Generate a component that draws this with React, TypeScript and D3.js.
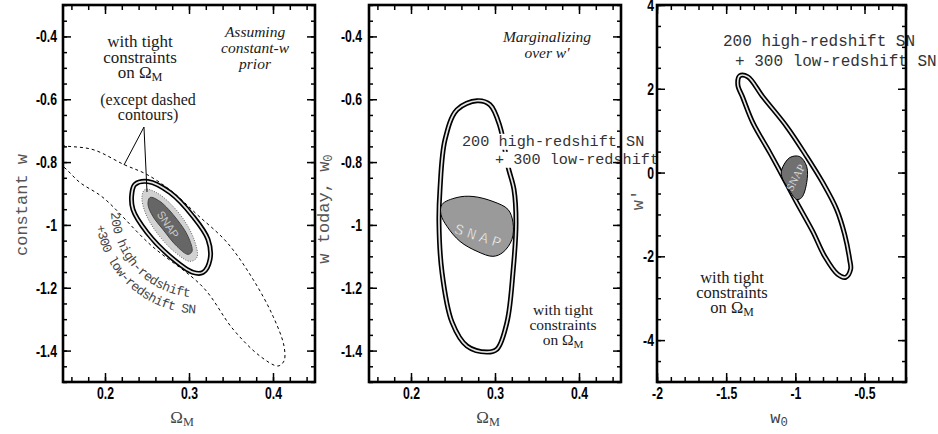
import { useEffect, useRef } from 'react';
import * as d3 from 'd3';

type Pt = [number, number];

// tick labels
const omegaTicks = [0.2, 0.3, 0.4];
const wTicks = [-1.4, -1.2, -1, -0.8, -0.6, -0.4];
const w0Ticks = [-2, -1.5, -1, -0.5];
const wPrimeTicks = [-4, -2, 0, 2, 4];

// panel 1: (Omega_M, constant w)
const p1Dashed: Pt[] = [
    [0.1048, -0.7286], [0.1488, -0.7476], [0.1857, -0.7603], [0.2226, -0.8079], [0.25, -0.8397],
    [0.2798, -0.8937], [0.3095, -0.9667], [0.3452, -1.0556], [0.3762, -1.173], [0.40, -1.2905],
    [0.4131, -1.3857], [0.4131, -1.4333], [0.406, -1.449], [0.3845, -1.4175], [0.3524, -1.3317],
    [0.3167, -1.1984], [0.2536, -1.0619], [0.1976, -0.9127], [0.1702, -0.8651], [0.1488, -0.8111],
    [0.1167, -0.7603],
];
const p1Solid: Pt[] = [
    [0.2512, -0.862], [0.2774, -0.897], [0.3048, -0.973], [0.3226, -1.046], [0.325, -1.11],
    [0.3167, -1.151], [0.3048, -1.151], [0.2774, -1.1], [0.25, -1.024], [0.2333, -0.951],
    [0.2321, -0.897], [0.2357, -0.871],
];
const p1SnapOuter: Pt[] = [
    [0.2476, -0.8873], [0.2631, -0.9], [0.2893, -0.9667], [0.306, -1.046], [0.3095, -1.103],
    [0.3012, -1.116], [0.2833, -1.087], [0.2631, -1.03], [0.2488, -0.9667], [0.244, -0.9127],
];
const p1Snap: Pt[] = [
    [0.2536, -0.9127], [0.2655, -0.9254], [0.2857, -0.9825], [0.2988, -1.0365], [0.3036, -1.0841],
    [0.2988, -1.0937], [0.2857, -1.0683], [0.269, -1.0143], [0.2571, -0.973], [0.2512, -0.935],
];

// panel 2: (Omega_M, w0) marginalized over w'
const p2Solid: Pt[] = [
    [0.2786, -0.6048], [0.2548, -0.6333], [0.2405, -0.7286], [0.2345, -0.8873], [0.2333, -0.9921],
    [0.2369, -1.1508], [0.2488, -1.3095], [0.2667, -1.3857], [0.2905, -1.4048], [0.3024, -1.3952],
    [0.3143, -1.3095], [0.3214, -1.1508], [0.325, -0.9921], [0.3226, -0.8873], [0.3155, -0.8143],
    [0.306, -0.6873], [0.294, -0.6175],
];
const p2Snap: Pt[] = [
    [0.2369, -0.9349], [0.2548, -0.9127], [0.2738, -0.9095], [0.2976, -0.9254], [0.3155, -0.9508],
    [0.3214, -0.9921], [0.3202, -1.046], [0.3095, -1.0873], [0.2976, -1.1], [0.2786, -1.0841],
    [0.2583, -1.0524], [0.2429, -1.0048], [0.2357, -0.9667],
];

// panel 3: (w0, w')
const p3Solid: Pt[] = [
    [-1.4012, 2.3095], [-1.3434, 2.2857], [-1.2352, 1.8095], [-1.062, 1.0952], [-0.9177, 0.381],
    [-0.8023, -0.2381], [-0.7013, -0.881], [-0.6436, -1.4762], [-0.6075, -2.0714], [-0.6003, -2.3095],
    [-0.6364, -2.5], [-0.6941, -2.4286], [-0.7879, -2.0], [-0.8745, -1.4048], [-0.9899, -0.7143],
    [-1.0981, -0.0476], [-1.1847, 0.4762], [-1.3074, 1.1905], [-1.3795, 1.7857], [-1.4156, 2.0952],
];
const p3Snap: Pt[] = [
    [-1.0981, 0.0714], [-1.0404, 0.3571], [-0.9683, 0.381], [-0.9177, 0.1429], [-0.9177, -0.2381],
    [-0.9538, -0.5952], [-0.9899, -0.6429], [-1.0548, -0.3571], [-1.0981, -0.0952],
];

const tightLines = ['with tight', 'constraints', 'on Ω_M'];
const snLines = ['200 high-redshift SN', '+ 300 low-redshift SN'];
const arcLines = ['200 high-redshift', '+300 low-redshift SN'];

const serif = '"Liberation Serif", "Times New Roman", serif';
const mono = '"Liberation Mono", "Courier New", monospace';
const sans = '"Liberation Sans", Arial, sans-serif';

interface Box { left: number; right: number; top: number; bottom: number }

const App = () => {
    const svgRef = useRef<SVGSVGElement>(null);

    useEffect(() => {
        if (!svgRef.current) return;
        const svg = d3.select(svgRef.current);
        svg.selectAll('*').remove();
        const defs = svg.append('defs');

        const closed = d3.line<Pt>().curve(d3.curveCatmullRomClosed.alpha(0.5));

        // text with "_X" subscripts
        const rich = (t: any, str: string, fs: number) => {
            const parts = str.split(/_(\w)/);
            let sub = false;
            parts.forEach((p, i) => {
                if (!p) return;
                if (i % 2 === 1) {
                    t.append('tspan').attr('font-size', fs * 0.72).attr('dy', fs * 0.2).text(p);
                    sub = true;
                } else {
                    t.append('tspan').attr('dy', sub ? -fs * 0.2 : 0).text(p);
                    sub = false;
                }
            });
        };

        const block = (g: any, x: number, y: number, lines: string[], fs: number, lh: number, italic = false) => {
            lines.forEach((l, i) => {
                const t = g.append('text')
                    .attr('x', x).attr('y', y + i * lh)
                    .attr('text-anchor', 'middle')
                    .attr('font-family', serif)
                    .attr('font-size', fs)
                    .attr('font-style', italic ? 'italic' : 'normal')
                    .attr('fill', '#1a1a1a');
                rich(t, l, fs);
            });
        };

        const makePanel = (id: number, box: Box, xd: [number, number], yd: [number, number]) => {
            const x = d3.scaleLinear().domain(xd).range([box.left, box.right]);
            const y = d3.scaleLinear().domain(yd).range([box.bottom, box.top]);
            defs.append('clipPath').attr('id', `clip${id}`).append('rect')
                .attr('x', box.left).attr('y', box.top)
                .attr('width', box.right - box.left).attr('height', box.bottom - box.top);
            const g = svg.append('g');
            g.append('rect')
                .attr('x', box.left).attr('y', box.top)
                .attr('width', box.right - box.left).attr('height', box.bottom - box.top)
                .attr('fill', 'white');
            const inner = g.append('g').attr('clip-path', `url(#clip${id})`);
            return { x, y, g, inner };
        };

        // boxed axes with inward ticks on all four sides
        const frame = (g: any, x: any, y: any, box: Box, xMajor: number[], xMinor: number[], yMajor: number[], yMinor: number[], yPad: number) => {
            const fmt = (d: any) => String(d);
            const style = (s: any, labels: boolean) => {
                s.select('.domain').remove();
                s.selectAll('line').attr('stroke', '#000').attr('stroke-width', 1.5);
                if (labels) {
                    s.selectAll('text')
                        .attr('font-family', sans)
                        .attr('font-size', 17)
                        .attr('transform', 'scale(0.72,1)')
                        .attr('fill', '#000')
                        .style('font-weight', '700');
                }
            };
            [true, false].forEach(bottom => {
                const mk = () => (bottom ? d3.axisBottom(x) : d3.axisTop(x));
                const pos = bottom ? box.bottom : box.top;
                g.append('g').attr('transform', `translate(0,${pos})`)
                    .call(mk().tickValues(xMinor).tickSizeInner(-5).tickSizeOuter(0).tickFormat(() => ''))
                    .call((s: any) => style(s, false));
                g.append('g').attr('transform', `translate(0,${pos})`)
                    .call(mk().tickValues(xMajor).tickSizeInner(-9).tickSizeOuter(0).tickPadding(5)
                        .tickFormat(bottom ? fmt : () => ''))
                    .call((s: any) => style(s, bottom));
            });
            [true, false].forEach(left => {
                const mk = () => (left ? d3.axisLeft(y) : d3.axisRight(y));
                const pos = left ? box.left : box.right;
                g.append('g').attr('transform', `translate(${pos},0)`)
                    .call(mk().tickValues(yMinor).tickSizeInner(-4).tickSizeOuter(0).tickFormat(() => ''))
                    .call((s: any) => style(s, false));
                g.append('g').attr('transform', `translate(${pos},0)`)
                    .call(mk().tickValues(yMajor).tickSizeInner(-8).tickSizeOuter(0).tickPadding(yPad / 0.72)
                        .tickFormat(left ? fmt : () => ''))
                    .call((s: any) => style(s, left));
            });
            g.append('rect')
                .attr('x', box.left).attr('y', box.top)
                .attr('width', box.right - box.left).attr('height', box.bottom - box.top)
                .attr('fill', 'none').attr('stroke', '#000').attr('stroke-width', 2.6);
        };

        const doubleLine = (g: any, pts: Pt[], x: any, y: any) => {
            const d = closed(pts.map(p => [x(p[0]), y(p[1])] as Pt));
            g.append('path').attr('d', d).attr('fill', 'none').attr('stroke', '#000').attr('stroke-width', 5);
            g.append('path').attr('d', d).attr('fill', 'none').attr('stroke', '#e4e4e4').attr('stroke-width', 1.7);
        };

        const filled = (g: any, pts: Pt[], x: any, y: any, fill: string, stroke: string, dash?: string) => {
            g.append('path')
                .attr('d', closed(pts.map(p => [x(p[0]), y(p[1])] as Pt)))
                .attr('fill', fill).attr('stroke', stroke).attr('stroke-width', 1)
                .attr('stroke-dasharray', dash ?? null);
        };

        const yTitle = (xPos: number, yPos: number, str: string) => {
            const t = svg.append('text')
                .attr('transform', `translate(${xPos},${yPos}) rotate(-90)`)
                .attr('text-anchor', 'middle')
                .attr('font-family', mono).attr('font-size', 17).attr('fill', '#555');
            rich(t, str, 17);
        };
        const xTitle = (xPos: number, yPos: number, str: string, font: string) => {
            const t = svg.append('text')
                .attr('x', xPos).attr('y', yPos)
                .attr('text-anchor', 'middle')
                .attr('font-family', font).attr('font-size', 17).attr('fill', '#444');
            rich(t, str, 17);
        };

        // ---------- panel 1 ----------
        const b1: Box = { left: 63, right: 315, top: 5, bottom: 382 };
        const P1 = makePanel(1, b1, [0.15, 0.45], [-1.5, -0.3]);
        P1.inner.append('path')
            .attr('d', closed(p1Dashed.map(p => [P1.x(p[0]), P1.y(p[1])] as Pt)))
            .attr('fill', 'none').attr('stroke', '#000').attr('stroke-width', 1)
            .attr('stroke-dasharray', '3,3');

        // curved label around the contours
        const cx = P1.x(0.312), cy = P1.y(-0.951);
        const arcs = [
            { r: 88, a0: 178, a1: 96 },
            { r: 104, a0: 171, a1: 92 },
        ];
        arcs.forEach((a, i) => {
            const p = d3.path();
            const s = a.a0 * Math.PI / 180, e = a.a1 * Math.PI / 180;
            p.moveTo(cx + a.r * Math.cos(s), cy + a.r * Math.sin(s));
            p.arc(cx, cy, a.r, s, e, true);
            defs.append('path').attr('id', `arc${i}`).attr('d', p.toString());
            P1.inner.append('path').attr('d', p.toString())
                .attr('fill', 'none').attr('stroke', 'white').attr('stroke-width', 13);
        });
        arcs.forEach((a, i) => {
            const len = a.r * (a.a0 - a.a1) * Math.PI / 180;
            P1.inner.append('text')
                .attr('font-family', mono).attr('font-size', 13).attr('fill', '#444')
                .append('textPath')
                .attr('href', `#arc${i}`)
                .attr('textLength', len)
                .attr('lengthAdjust', 'spacing')
                .text(arcLines[i]);
        });

        doubleLine(P1.inner, p1Solid, P1.x, P1.y);
        filled(P1.inner, p1SnapOuter, P1.x, P1.y, '#d2d2d2', '#666', '1,1.5');
        filled(P1.inner, p1Snap, P1.x, P1.y, '#666', '#444');
        P1.inner.append('text')
            .attr('transform', `translate(${P1.x(0.275)},${P1.y(-0.9987)}) rotate(56)`)
            .attr('text-anchor', 'middle').attr('dy', '0.35em')
            .attr('font-family', sans).attr('font-size', 11)
            .attr('fill', '#c8c8c8').text('SNAP');

        // leader lines
        const from: Pt = [0.2464, -0.6885];
        const tos: Pt[] = [[0.2226, -0.8093], [0.25, -0.8952]];
        tos.forEach(t => {
            P1.inner.append('line')
                .attr('x1', P1.x(from[0])).attr('y1', P1.y(from[1]))
                .attr('x2', P1.x(t[0])).attr('y2', P1.y(t[1]))
                .attr('stroke', '#000').attr('stroke-width', 1);
        });

        block(P1.g, P1.x(0.3786), P1.y(-0.4018), ['Assuming', 'constant-w', 'prior'], 15.5, 16, true);
        block(P1.g, P1.x(0.2417), P1.y(-0.4337), tightLines, 17, 15.5);
        block(P1.g, P1.x(0.2512), P1.y(-0.6183), ['(except dashed', 'contours)'], 16, 15.5);
        frame(P1.g, P1.x, P1.y, b1, omegaTicks, d3.ticks(0.15, 0.45, 15), wTicks, d3.ticks(-1.5, -0.3, 24), 6);

        // ---------- panel 2 ----------
        const b2: Box = { left: 369, right: 621, top: 5, bottom: 382 };
        const P2 = makePanel(2, b2, [0.15, 0.45], [-1.5, -0.3]);
        doubleLine(P2.inner, p2Solid, P2.x, P2.y);
        filled(P2.inner, p2Snap, P2.x, P2.y, '#9a9a9a', '#000');
        P2.inner.append('text')
            .attr('transform', `translate(${P2.x(0.2821)},${P2.y(-1.0355)}) rotate(18)`)
            .attr('text-anchor', 'middle').attr('dy', '0.35em')
            .attr('font-family', mono).attr('font-size', 15)
            .attr('letter-spacing', 4)
            .attr('fill', '#f4f4f4').attr('stroke', '#808080').attr('stroke-width', 0.3)
            .text('SNAP');
        block(P2.g, P2.x(0.3619), P2.y(-0.4178), ['Marginalizing', 'over w′'], 15.5, 16, true);
        block(P2.g, P2.x(0.381), P2.y(-1.2866), tightLines, 15.5, 15);

        const snLabel = (g: any, x: number, y: number, s: string, fs: number) => {
            const w = s.length * fs * 0.6;
            g.append('rect').attr('x', x - 2).attr('y', y - fs * 0.8).attr('width', w + 4).attr('height', fs * 1.05)
                .attr('fill', 'white');
            g.append('text').attr('x', x).attr('y', y)
                .attr('font-family', mono).attr('font-size', fs).attr('fill', '#333').text(s);
        };
        snLabel(P2.g, P2.x(0.2607), P2.y(-0.7488), snLines[0], 15.2);
        snLabel(P2.g, P2.x(0.30), P2.y(-0.806), snLines[1], 15.2);
        frame(P2.g, P2.x, P2.y, b2, omegaTicks, d3.ticks(0.15, 0.45, 15), wTicks, d3.ticks(-1.5, -0.3, 24), 7);

        // ---------- panel 3 ----------
        const b3: Box = { left: 657, right: 906, top: 5, bottom: 382 };
        const P3 = makePanel(3, b3, [-2, -0.2], [-5, 4]);
        doubleLine(P3.inner, p3Solid, P3.x, P3.y);
        filled(P3.inner, p3Snap, P3.x, P3.y, '#707070', '#000');
        P3.inner.append('text')
            .attr('transform', `translate(${P3.x(-1.0)},${P3.y(-0.119)}) rotate(-62)`)
            .attr('text-anchor', 'middle').attr('dy', '0.35em')
            .attr('font-family', serif).attr('font-size', 11)
            .attr('fill', '#dcdcdc').text('SNAP');
        block(P3.g, P3.x(-1.4577), P3.y(-2.636), tightLines, 16.5, 15);
        snLabel(P3.g, P3.x(-1.5228), P3.y(3.021), snLines[0], 16);
        snLabel(P3.g, P3.x(-1.436), P3.y(2.544), snLines[1], 16);
        frame(P3.g, P3.x, P3.y, b3, w0Ticks, d3.ticks(-2, -0.2, 18), wPrimeTicks, d3.ticks(-5, 4, 18), 3);

        // axis titles
        yTitle(27, 205, 'constant w');
        yTitle(329, 209, 'w today, w_0');
        yTitle(643, 200, 'w′');
        xTitle(182, 423, 'Ω_M', serif);
        xTitle(488, 423, 'Ω_M', serif);
        xTitle(779, 423, 'w_0', mono);
    }, []);

    return (
        <svg ref={svgRef} width={938} height={434}
            style={{ position: 'absolute', left: 0, top: 0, background: 'white' }} />
    );
};

export default App;
